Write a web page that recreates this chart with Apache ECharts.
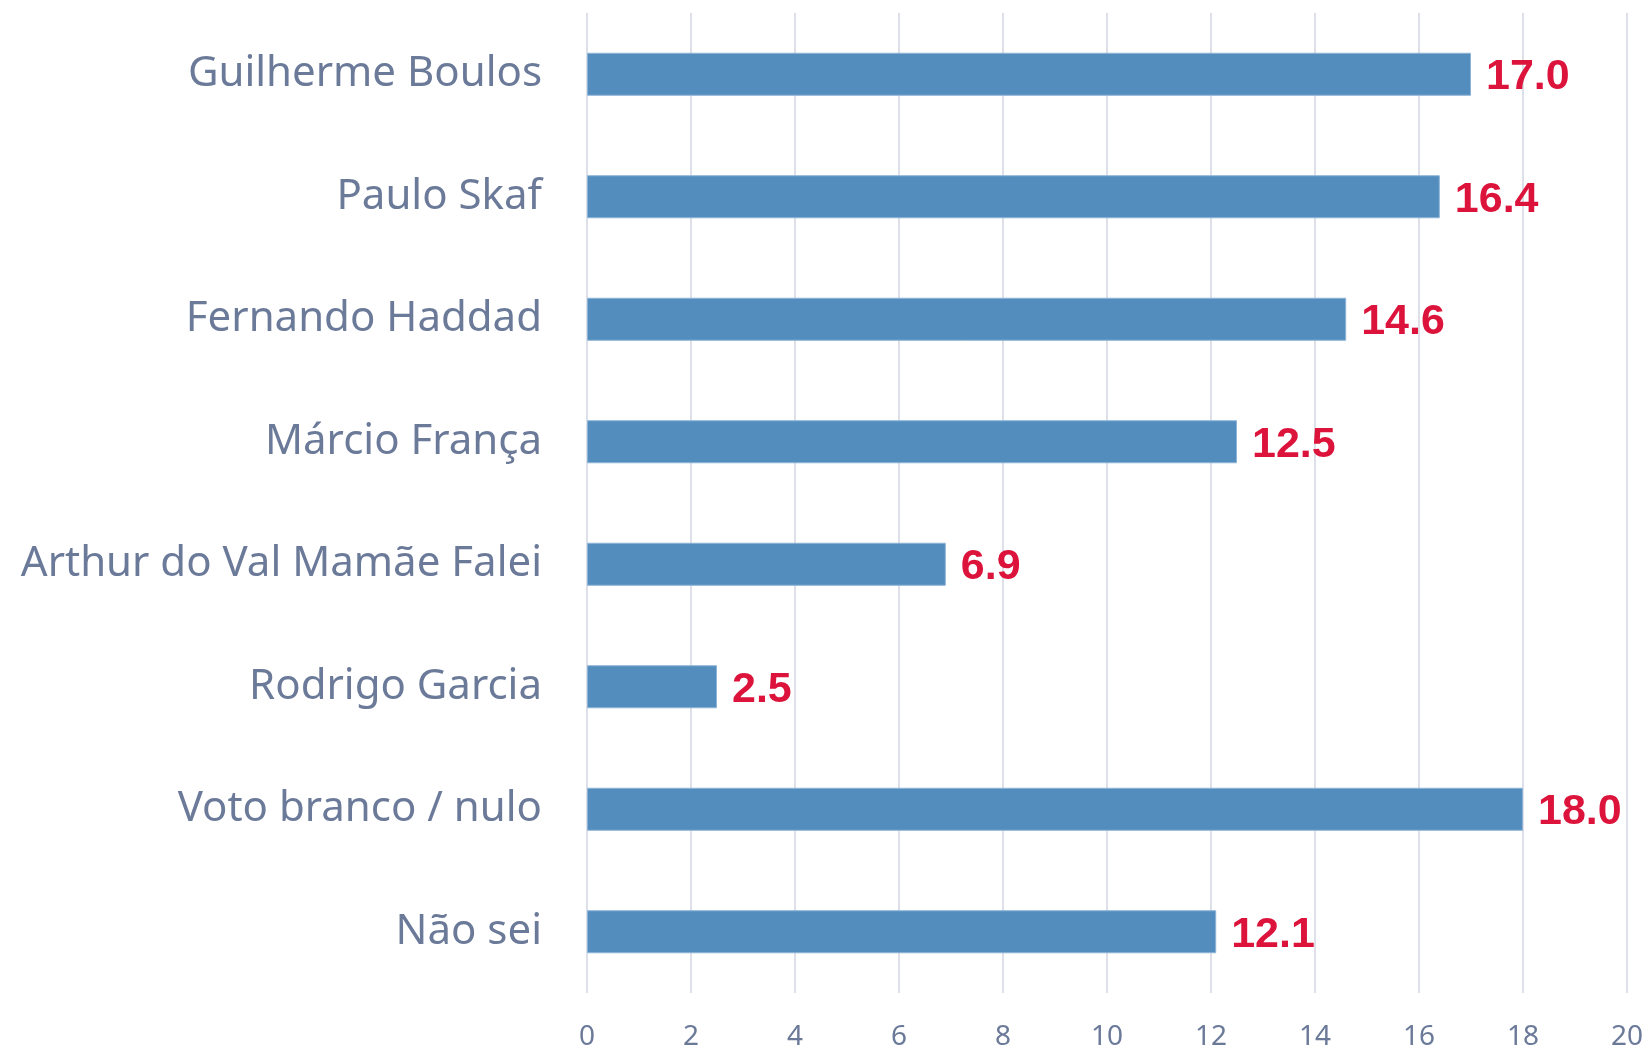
<!DOCTYPE html>
<html>
<head>
<meta charset="utf-8">
<script src="https://cdn.jsdelivr.net/npm/echarts@6/dist/echarts.min.js"></script>
<style>
  html, body { margin: 0; padding: 0; background: #fff; }
  #chart { width: 1650px; height: 1051px; }
</style>
</head>
<body>
<div id="chart"></div>
<script>
// categorias e valores (%)
var categories = [
    'Guilherme Boulos',
    'Paulo Skaf',
    'Fernando Haddad',
    'Márcio França',
    'Arthur do Val Mamãe Falei',
    'Rodrigo Garcia',
    'Voto branco / nulo',
    'Não sei'
];
var values = [17.0, 16.4, 14.6, 12.5, 6.9, 2.5, 18.0, 12.1];

var myChart = echarts.init(document.getElementById('chart'));

var option = {
    animation: false,
    grid: {
        left: 587,
        right: 23,
        top: 13,
        bottom: 57
    },
    xAxis: {
        type: 'value',
        min: 0,
        max: 20,
        interval: 2,
        axisLine: { show: false },
        axisTick: { show: false },
        splitLine: {
            show: true,
            lineStyle: { color: '#dde0e8', width: 2 }
        },
        axisLabel: {
            color: '#6b7a99',
            fontFamily: 'Noto Sans',
            fontSize: 28,
            margin: 30
        }
    },
    yAxis: {
        type: 'category',
        inverse: true,
        data: categories,
        axisLine: { show: false },
        axisTick: { show: false },
        axisLabel: {
            color: '#6b7a99',
            fontFamily: 'Noto Sans',
            fontSize: 42,
            margin: 45,
            padding: [4, 0, 0, 0]
        }
    },
    series: [{
        type: 'bar',
        data: values,
        barWidth: 43,
        itemStyle: {
            color: '#528dbd',
            borderColor: '#8db4d6',
            borderWidth: 1
        },
        label: {
            show: true,
            position: 'right',
            distance: 15,
            offset: [0, 3],
            color: '#dc143c',
            fontFamily: 'Liberation Sans',
            fontWeight: 'bold',
            fontSize: 43,
            formatter: function (p) {
                return p.value.toFixed(1);
            }
        }
    }]
};

myChart.setOption(option);
</script>
</body>
</html>
